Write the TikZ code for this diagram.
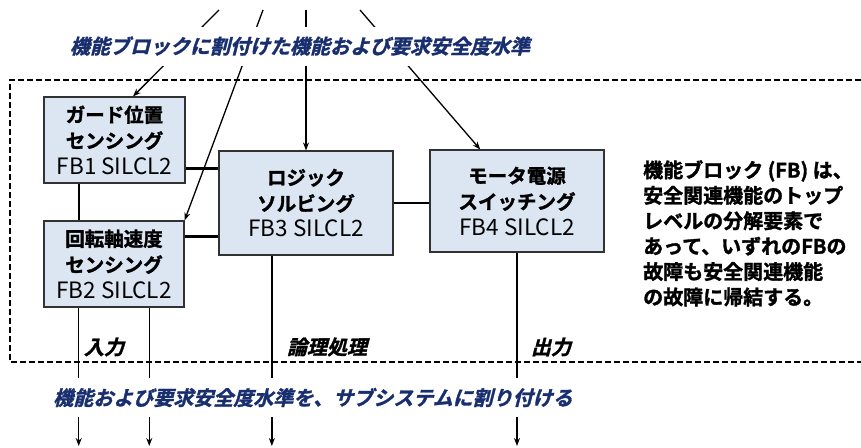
\documentclass[tikz,border=0pt]{standalone}
\usepackage{fontspec}
\setmainfont{Noto Sans CJK JP}[BoldFont={Noto Sans CJK JP Bold},BoldFeatures={FakeBold=1.5}]
\newfontfamily\jpbi{Noto Sans CJK JP Bold}[FakeSlant=0.25,FakeBold=1.5]
\newcommand\fbfont{\mdseries\fontsize{22.5}{26}\selectfont}
\usetikzlibrary{arrows.meta,calc}
\definecolor{boxfill}{RGB}{220,230,242}
\definecolor{boxline}{RGB}{50,50,50}
\definecolor{navy}{RGB}{24,46,110}
\tikzset{
  fbbox/.style={draw=boxline,line width=1.1pt,fill=boxfill,align=center,inner sep=0pt,
    font=\bfseries\fontsize{19.5}{26}\selectfont},
  arr/.style={line width=1.3pt,-{Stealth[length=8pt,width=6pt]}},
  link/.style={line width=2.6pt},
  vlink/.style={line width=1.8pt},
  frame/.style={line width=1.6pt,dash pattern=on 6pt off 3pt},
  bluetext/.style={fill=white,text=navy,font=\jpbi\fontsize{20}{24}\selectfont,inner xsep=2pt,minimum height=39pt},
  lbl/.style={font=\jpbi\fontsize{20}{24}\selectfont,inner sep=0pt}
}
\begin{document}
\begin{tikzpicture}[x=1pt,y=-1pt]
\useasboundingbox (0,0) rectangle (861,447);
% dashed frame (open on the right)
\draw[frame] (861,80) -- (10,80) -- (10,362) -- (861,362);
% function blocks
\node[fbbox,minimum width=141pt,minimum height=86pt] (fb1) at (114.5,140)
  {ガード位置\\センシング\\{\fbfont FB1 SILCL2}};
\node[fbbox,minimum width=140pt,minimum height=86pt] (fb2) at (114,264)
  {回転軸速度\\センシング\\{\fbfont FB2 SILCL2}};
\node[fbbox,minimum width=174pt,minimum height=104pt] (fb3) at (306,203)
  {ロジック\\ソルビング\\{\fbfont FB3 SILCL2}};
\node[fbbox,minimum width=174pt,minimum height=102pt] (fb4) at (517,201)
  {モータ電源\\スイッチング\\{\fbfont FB4 SILCL2}};
% connectors between blocks
\draw[link] ($(fb1.south east)!0.174!(fb1.north east)$) coordinate (c1) -- (c1 -| fb3.west);
\draw[link] ($(fb2.north east)!0.186!(fb2.south east)$) coordinate (c2) -- (c2 -| fb3.west);
\draw[link] (fb3.east) -- (fb3.east -| fb4.west);
\draw[vlink] ($(fb1.south west)!0.25!(fb1.south east)$) coordinate (c4) -- (c4 |- fb2.north);
% allocation arrows from the top
\coordinate (s1) at (219,10);
\coordinate (s2) at (263,10);
\coordinate (s4) at (360,10);
\coordinate (top) at (0,10);
\draw[arr] (s1) -- ($(fb1.north west)!0.63!(fb1.north east)$);
\draw[arr] (s2) -- (fb2.north east);
\draw[arr] (fb3.north |- top) -- (fb3.north);
\draw[arr] (s4) -- ($(fb4.north west)!0.29!(fb4.north east)$);
% arrows to the bottom
\coordinate (bot) at (0,446);
\draw[arr] ($(fb2.south west)!0.25!(fb2.south east)$) coordinate (b1) -- (b1 |- bot);
\draw[arr] ($(fb2.south west)!0.75!(fb2.south east)$) coordinate (b2) -- (b2 |- bot);
\draw[arr] ($(fb3.south west)!0.305!(fb3.south east)$) coordinate (b3) -- (b3 |- bot);
\draw[arr] (fb4.south) -- (fb4.south |- bot);
% blue captions (cover the lines)
\node[bluetext] (cap1) at (300,46) {機能ブロックに割付けた機能および要求安全度水準};
\node[bluetext] (cap2) at (313,397.5) {機能および要求安全度水準を、サブシステムに割り付ける};
% labels
\node[lbl] (in) at (104,347) {入力};
\node[lbl] (logic) at (327,347) {論理処理};
\node[lbl] (out) at (551,347) {出力};
% note
\node[anchor=north west,align=left,inner sep=0pt,font=\bfseries\fontsize{20}{25.4}\selectfont] (note) at (643,160)
  {機能ブロック (FB) は、\\安全関連機能のトップ\\レベルの分解要素で\\あって、いずれのFBの\\故障も安全関連機能\\の故障に帰結する。};
\end{tikzpicture}
\end{document}
